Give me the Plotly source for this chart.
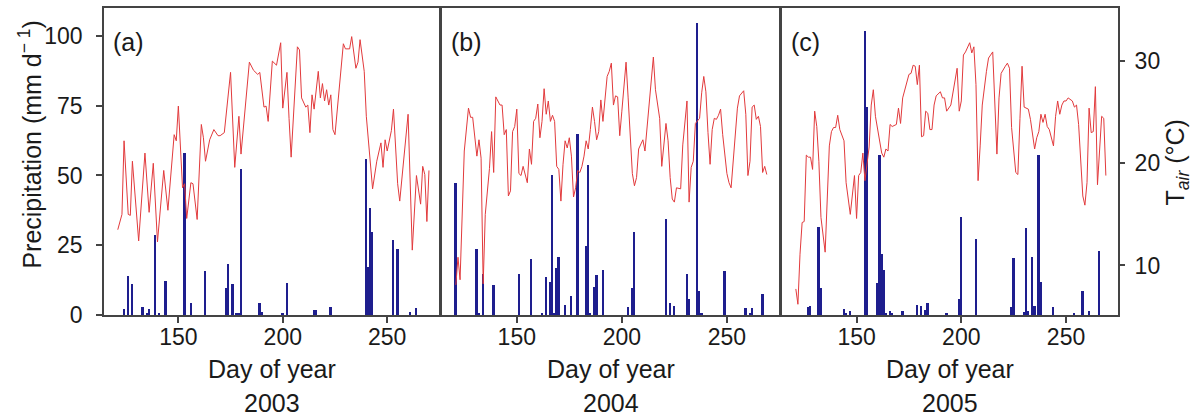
import plotly.graph_objects as go

# ---------------- data ----------------
years = ["2003", "2004", "2005"]
panel_labels = ["(a)", "(b)", "(c)"]
x_ticks = [150, 200, 250]
p_ticks = [0, 25, 50, 75, 100]
t_ticks = [10, 20, 30]

# Air temperature (deg C), day of year
t2003_day = [121, 123, 124, 126, 127, 128, 131, 134, 136, 138, 140, 143, 145, 148, 149, 150, 152, 153, 154,
             156, 157, 159, 161, 162, 163, 165, 167, 169, 170, 172, 175, 177, 179, 180, 184, 186, 188, 189,
             191, 192, 193, 195, 197, 199, 200, 202, 203, 204, 207, 208, 209, 211, 212, 213, 214, 215, 217,
             218, 219, 220, 221, 222, 223, 224, 225, 229, 230, 232, 233, 235, 236, 237, 239, 240, 243, 245,
             247, 248, 249, 250, 252, 253, 255, 256, 260, 262, 264, 266, 267, 268, 269, 270]
t2003_val = [13.5, 15.0, 22.2, 15.0, 14.9, 20.2, 12.4, 21.0, 15.2, 20.0, 12.3, 19.3, 15.4, 22.8, 22.2, 25.6,
             17.6, 18.0, 14.6, 18.1, 18.0, 14.5, 23.8, 22.5, 20.2, 22.3, 23.3, 22.7, 22.7, 23.0, 28.9, 19.6,
             24.6, 20.9, 29.9, 29.1, 28.7, 28.9, 25.5, 25.6, 24.1, 30.0, 29.6, 31.8, 25.4, 28.9, 24.4, 20.6,
             31.4, 31.1, 26.4, 25.5, 25.7, 23.0, 26.7, 25.3, 29.0, 26.4, 27.8, 26.1, 27.2, 25.7, 26.7, 23.3,
             22.8, 31.7, 31.2, 31.2, 32.4, 29.3, 29.9, 32.1, 29.0, 24.6, 17.5, 20.2, 22.0, 19.6, 22.3, 21.2,
             23.2, 25.3, 18.0, 16.3, 24.8, 11.5, 18.8, 16.0, 19.7, 18.9, 14.3, 19.3]

t2004_day = [121, 122, 123, 124, 125, 127, 128, 129, 131, 132, 133, 134, 135, 137, 138, 139, 140, 142, 143,
             144, 145, 146, 147, 148, 149, 150, 151, 152, 153, 155, 156, 157, 158, 159, 160, 161, 162, 163,
             164, 165, 166, 167, 168, 169, 170, 171, 172, 173, 174, 175, 176, 177, 178, 179, 180, 181, 182,
             183, 184, 185, 186, 187, 188, 189, 190, 191, 193, 194, 195, 196, 197, 198, 199, 200, 202, 203,
             204, 205, 206, 207, 208, 210, 211, 212, 213, 214, 215, 216, 218, 219, 220, 221, 222, 223, 224,
             225, 226, 228, 229, 230, 231, 232, 233, 234, 235, 237, 238, 239, 240, 241, 242, 243, 244, 245,
             246, 247, 248, 250, 251, 252, 253, 254, 255, 256, 258, 259, 260, 261, 262, 263, 264, 265, 266,
             267, 268, 269]
t2004_val = [8.1, 10.8, 8.6, 15.7, 21.2, 25.4, 24.5, 24.5, 20.7, 22.3, 20.5, 8.2, 15.0, 19.5, 23.1, 19.1,
             26.5, 25.7, 25.7, 22.8, 23.3, 16.8, 17.3, 23.1, 23.6, 25.3, 19.0, 18.8, 19.7, 18.1, 21.4, 19.9,
             24.1, 24.4, 25.8, 22.5, 24.1, 27.3, 24.8, 26.1, 24.1, 24.7, 24.1, 19.7, 19.4, 16.3, 19.9, 22.2,
             21.5, 22.5, 20.7, 16.7, 17.6, 19.3, 19.1, 19.7, 20.7, 22.2, 21.4, 23.3, 25.5, 24.1, 22.3, 23.1,
             26.2, 24.1, 28.5, 29.0, 29.8, 25.7, 26.6, 26.5, 22.7, 25.1, 29.9, 26.4, 23.1, 19.0, 17.8, 18.6,
             21.4, 22.3, 21.2, 23.6, 25.9, 28.8, 30.4, 27.2, 24.4, 19.7, 21.8, 23.9, 22.2, 18.6, 16.5, 16.2,
             17.6, 17.5, 21.8, 24.3, 26.1, 16.2, 19.6, 20.2, 23.9, 24.4, 26.9, 28.5, 27.0, 23.0, 19.9, 23.3,
             24.4, 24.3, 24.7, 25.3, 22.8, 19.0, 18.1, 17.6, 20.2, 22.8, 25.4, 26.6, 27.1, 24.8, 18.8, 20.2,
             25.5, 25.7, 24.3, 24.6, 23.6, 19.1, 19.7, 18.9]

t2005_day = [121, 122, 123, 124, 125, 126, 127, 128, 129, 130, 131, 132, 133, 135, 137, 138, 139, 140, 141,
             142, 144, 145, 147, 149, 150, 151, 152, 153, 154, 156, 157, 158, 159, 161, 162, 163, 164, 165,
             166, 167, 169, 170, 171, 172, 173, 175, 176, 177, 178, 179, 180, 181, 182, 183, 184, 185, 186,
             187, 188, 190, 191, 192, 193, 195, 198, 199, 200, 201, 202, 204, 205, 206, 207, 208, 209, 210,
             212, 213, 215, 217, 218, 219, 221, 222, 223, 224, 226, 227, 228, 229, 230, 232, 233, 235, 236,
             237, 238, 239, 240, 241, 242, 244, 245, 246, 247, 248, 249, 250, 251, 252, 253, 254, 255, 256,
             257, 258, 259, 260, 261, 262, 263, 264, 265, 266, 267, 268, 269]
t2005_val = [7.7, 6.2, 11.1, 14.2, 14.3, 20.8, 20.6, 20.6, 19.4, 25.1, 23.6, 20.2, 14.7, 11.3, 21.7, 23.1,
             23.5, 23.5, 24.7, 23.3, 22.2, 18.1, 15.0, 18.8, 14.6, 18.8, 19.1, 21.0, 18.3, 21.6, 25.7, 27.2,
             24.6, 21.9, 21.0, 20.6, 21.4, 21.2, 23.8, 23.6, 23.8, 25.4, 23.9, 26.4, 27.2, 28.7, 28.8, 29.6,
             29.5, 27.7, 29.6, 22.6, 22.7, 25.1, 24.9, 23.3, 23.3, 25.7, 26.6, 27.0, 26.4, 26.4, 25.1, 25.7,
             29.3, 25.1, 26.1, 30.6, 30.9, 31.8, 30.8, 31.4, 27.7, 18.3, 21.7, 25.7, 29.0, 30.3, 30.9, 20.9,
             26.4, 28.8, 29.5, 29.8, 29.3, 23.5, 19.1, 18.9, 24.4, 29.5, 25.5, 25.3, 24.3, 21.4, 22.5, 23.1,
             24.8, 24.0, 24.8, 23.6, 23.3, 21.7, 24.6, 26.1, 24.8, 25.7, 26.1, 26.1, 26.4, 26.2, 26.1, 25.5,
             25.7, 23.8, 19.6, 16.8, 15.9, 18.1, 25.4, 23.0, 23.1, 27.5, 17.9, 21.4, 24.6, 24.4, 18.8]

# Precipitation (mm/d), day of year
p2003_day = [124, 126, 128, 133, 135, 136, 139, 141, 144, 153, 156, 163, 173, 174, 176, 178, 179, 180, 189,
             190, 200, 202, 215, 216, 223, 240, 241, 242, 243, 253, 255, 261, 264]
p2003_val = [2.0, 13.9, 11.1, 2.7, 0.6, 2.0, 28.6, 0.6, 12.3, 58.0, 4.2, 15.8, 9.5, 18.2, 11.1, 0.6, 0.6,
             52.4, 4.4, 1.0, 0.6, 11.3, 1.8, 1.8, 2.7, 56.0, 17.3, 38.5, 29.8, 26.8, 23.8, 1.0, 2.6]

p2004_day = [121, 131, 132, 134, 139, 151, 157, 162, 164, 166, 167, 168, 169, 170, 173, 176, 179, 183, 184,
             185, 187, 188, 191, 203, 205, 206, 221, 223, 225, 231, 232, 236, 237, 238, 249, 259, 261, 262,
             267]
p2004_val = [47.3, 23.6, 0.5, 14.6, 10.7, 14.6, 20.2, 0.8, 13.5, 11.9, 50.0, 0.5, 16.9, 20.8, 3.6, 6.8,
             64.9, 24.6, 53.6, 0.5, 9.9, 14.2, 16.3, 3.0, 9.5, 29.8, 34.5, 4.4, 3.2, 14.6, 5.6, 104.8, 8.7,
             0.5, 15.8, 2.6, 0.5, 2.4, 7.5]

p2005_day = [127, 128, 132, 133, 144, 145, 147, 154, 155, 160, 161, 162, 163, 164, 166, 167, 172, 179, 181,
             183, 184, 193, 199, 200, 207, 224, 225, 230, 231, 232, 234, 235, 237, 238, 244, 254, 258, 261,
             266]
p2005_val = [2.7, 3.2, 31.5, 9.5, 2.0, 0.6, 1.5, 101.8, 74.4, 11.5, 57.5, 21.8, 16.1, 0.5, 1.5, 0.5, 1.5,
             3.6, 3.2, 1.8, 4.4, 0.5, 5.6, 35.1, 27.4, 3.0, 20.6, 1.2, 31.0, 1.5, 20.8, 3.2, 57.5, 11.9, 3.0,
             0.8, 8.7, 1.5, 23.0]

# ---------------- figure ----------------
W, H = 1200, 418
L, R, T, B = 104, 82, 6, 103
PW = W - L - R
PH = H - T - B


def xdom(a, b):
    return [(a - L) / PW, (b - L) / PW]


domains = [xdom(104, 439), xdom(442, 779), xdom(782, 1118)]
FONT = "Liberation Sans, Arial, sans-serif"
AX = "#444444"
BAR_C = "#1e1e8e"
LINE_C = "#e23a3c"
X_RANGE = [114.4, 274.8]
P_RANGE = [0, 110]
T_RANGE = [5.15, 35.2]
TICK_FS = 23
TITLE_FS = 25

temps = [(t2003_day, t2003_val), (t2004_day, t2004_val), (t2005_day, t2005_val)]
precs = [(p2003_day, p2003_val), (p2004_day, p2004_val), (p2005_day, p2005_val)]

fig = go.Figure()
for i in range(3):
    xa = "x" if i == 0 else f"x{i+1}"
    ya = "y" if i == 0 else f"y{i+1}"
    yt = f"y{i+4}"
    fig.add_trace(go.Bar(x=precs[i][0], y=precs[i][1], xaxis=xa, yaxis=ya, width=0.85,
                         marker=dict(color=BAR_C, line=dict(width=0)), showlegend=False))
    fig.add_trace(go.Scatter(x=temps[i][0], y=temps[i][1], xaxis=xa, yaxis=yt, mode="lines",
                             line=dict(color=LINE_C, width=1), showlegend=False))

layout = dict(
    width=W, height=H, margin=dict(l=L, r=R, t=T, b=B),
    paper_bgcolor="white", plot_bgcolor="white",
    font=dict(family=FONT, size=TICK_FS, color="#1a1a1a"),
    bargap=0,
)
for i in range(3):
    k = "" if i == 0 else str(i + 1)
    layout[f"xaxis{k}"] = dict(
        domain=domains[i], range=X_RANGE, anchor="y" + k, tickmode="array", tickvals=x_ticks,
        ticks="outside", ticklen=6, tickwidth=1.5, tickcolor=AX, showline=True, linecolor=AX,
        linewidth=1.5, mirror=True, showgrid=False, zeroline=False, tickfont=dict(size=TICK_FS),
        ticklabelstandoff=-5,
    )
    layout[f"yaxis{k}"] = dict(
        range=P_RANGE, anchor="x" + k, showline=True, linecolor=AX, linewidth=1.5, mirror=True,
        showgrid=False, zeroline=False, tickmode="array", tickvals=p_ticks,
        ticks="outside" if i == 0 else "", ticklen=6, tickwidth=1.5, tickcolor=AX,
        showticklabels=(i == 0), tickfont=dict(size=TICK_FS), ticklabelstandoff=9,
    )
    tk = str(i + 4)
    layout[f"yaxis{tk}"] = dict(
        range=T_RANGE, anchor="x" + k, overlaying="y" + k, side="right",
        showgrid=False, zeroline=False, showline=False,
        visible=(i == 2), tickmode="array", tickvals=t_ticks, ticks="outside", ticklen=6,
        tickwidth=1.5, tickcolor=AX, tickfont=dict(size=TICK_FS), ticklabelstandoff=5,
    )
fig.update_layout(**layout)

ann = []
for i in range(3):
    k = "" if i == 0 else str(i + 1)
    ann.append(dict(text=panel_labels[i], xref=f"x{k} domain", yref=f"y{k} domain", x=0.022, y=0.888,
                    xanchor="left", yanchor="middle", showarrow=False, font=dict(size=TITLE_FS)))
    cx = (domains[i][0] + domains[i][1]) / 2
    ann.append(dict(text="Day of year", xref="paper", yref="paper", x=cx, y=(315 - 369) / PH,
                    xanchor="center", yanchor="middle", showarrow=False, font=dict(size=TITLE_FS)))
    ann.append(dict(text=years[i], xref="paper", yref="paper", x=cx, y=(315 - 404) / PH,
                    xanchor="center", yanchor="middle", showarrow=False, font=dict(size=TITLE_FS)))
ann.append(dict(text="Precipitation (mm d<sup>\u2212 1</sup>)", xref="paper", yref="paper",
                x=(30 - L) / PW, y=(315 - 143.5) / PH, textangle=-90, xanchor="center",
                yanchor="middle", showarrow=False, font=dict(size=TITLE_FS)))
ann.append(dict(text="T<sub><i>air</i></sub> (\u00b0C)", xref="paper", yref="paper",
                x=(1177 - L) / PW, y=(315 - 161.5) / PH, textangle=-90, xanchor="center",
                yanchor="middle", showarrow=False, font=dict(size=TITLE_FS)))
fig.update_layout(annotations=ann)

fig.write_html("out.html")
